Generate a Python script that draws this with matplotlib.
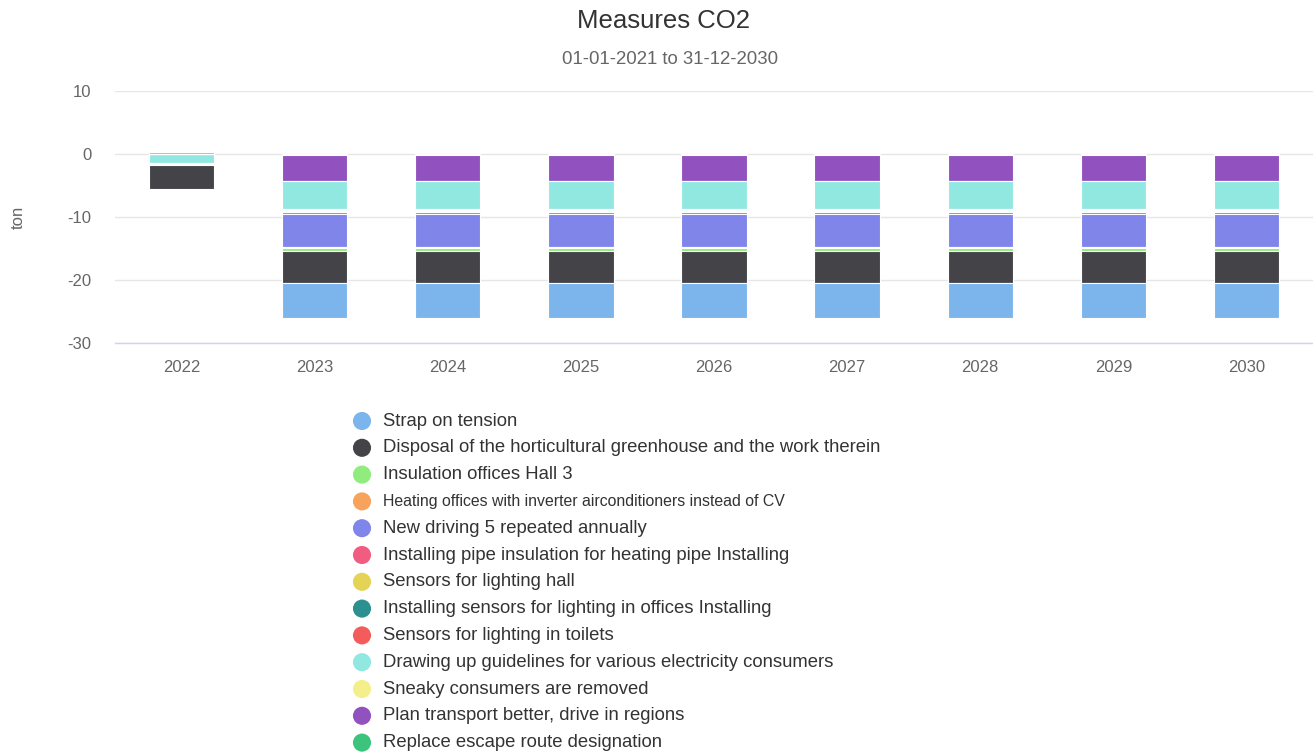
import numpy as np
import matplotlib
matplotlib.use("Agg")
import matplotlib.pyplot as plt

plt.rcParams['font.family'] = ['Liberation Sans', 'DejaVu Sans']
plt.rcParams['axes.unicode_minus'] = False

# Jaren en maatregelen (ton CO2 per jaar)
years = ['2022', '2023', '2024', '2025', '2026', '2027', '2028', '2029', '2030']

measures = [
    'Strap on tension',
    'Disposal of the horticultural greenhouse and the work therein',
    'Insulation offices Hall 3',
    'Heating offices with inverter airconditioners instead of CV',
    'New driving 5 repeated annually',
    'Installing pipe insulation for heating pipe Installing',
    'Sensors for lighting hall',
    'Installing sensors for lighting in offices Installing',
    'Sensors for lighting in toilets',
    'Drawing up guidelines for various electricity consumers',
    'Sneaky consumers are removed',
    'Plan transport better, drive in regions',
    'Replace escape route designation',
]

strap_on_tension = [0, -5.6, -5.6, -5.6, -5.6, -5.6, -5.6, -5.6, -5.6]
disposal_greenhouse = [-3.8, -5.1, -5.1, -5.1, -5.1, -5.1, -5.1, -5.1, -5.1]
insulation_hall3 = [-0.2, -0.4, -0.4, -0.4, -0.4, -0.4, -0.4, -0.4, -0.4]
heating_inverter = [0.3, -0.3, -0.3, -0.3, -0.3, -0.3, -0.3, -0.3, -0.3]
new_driving = [0, -5.2, -5.2, -5.2, -5.2, -5.2, -5.2, -5.2, -5.2]
pipe_insulation = [-0.15, -0.3, -0.3, -0.3, -0.3, -0.3, -0.3, -0.3, -0.3]
sensors_hall = [0, -0.2, -0.2, -0.2, -0.2, -0.2, -0.2, -0.2, -0.2]
sensors_offices = [0, -0.15, -0.15, -0.15, -0.15, -0.15, -0.15, -0.15, -0.15]
sensors_toilets = [-0.1, -0.15, -0.15, -0.15, -0.15, -0.15, -0.15, -0.15, -0.15]
guidelines = [-1.35, -4.35, -4.35, -4.35, -4.35, -4.35, -4.35, -4.35, -4.35]
sneaky_consumers = [0, 0, 0, 0, 0, 0, 0, 0, 0]
plan_transport = [0, -4.25, -4.25, -4.25, -4.25, -4.25, -4.25, -4.25, -4.25]
escape_route = [0, -0.1, -0.1, -0.1, -0.1, -0.1, -0.1, -0.1, -0.1]

series = [strap_on_tension, disposal_greenhouse, insulation_hall3, heating_inverter,
          new_driving, pipe_insulation, sensors_hall, sensors_offices, sensors_toilets,
          guidelines, sneaky_consumers, plan_transport, escape_route]

colors = ['#7cb5ec', '#434348', '#90ed7d', '#f7a35c', '#8085e9', '#f15c80', '#e4d354',
          '#2b908f', '#f45b5b', '#91e8e1', '#f4ef8a', '#9152bf', '#3cc47c']

fig = plt.figure(figsize=(13.13, 7.54), dpi=100)
ax = fig.add_axes([115 / 1313, 1 - 343 / 754, 1198 / 1313, 252 / 754])

x = np.arange(len(years))
pos_base = np.zeros(len(years))
neg_base = np.zeros(len(years))
# eerste reeks ligt het verst van nul, dus van achter naar voren stapelen
for vals, col in zip(reversed(series), reversed(colors)):
    v = np.array(vals, dtype=float)
    bottom = np.where(v >= 0, pos_base, neg_base)
    ax.bar(x, v, bottom=bottom, width=0.49, color=col, edgecolor='white', linewidth=0.8, zorder=3)
    pos_base = pos_base + np.where(v > 0, v, 0)
    neg_base = neg_base + np.where(v < 0, v, 0)

ax.set_xlim(-0.5, len(years) - 0.5)
ax.set_ylim(-30, 10)
ax.set_yticks([-30, -20, -10, 0, 10])
ax.set_xticks(x)
ax.set_xticklabels(years)
ax.tick_params(axis='both', length=0, labelsize=12, colors='#666666')
ax.tick_params(axis='y', pad=17)
ax.tick_params(axis='x', pad=12)
ax.grid(axis='y', color='#e6e6e6', linewidth=1, zorder=0)
for s in ['top', 'right', 'left']:
    ax.spines[s].set_visible(False)
ax.spines['bottom'].set_color('#ccd6eb')
ax.spines['bottom'].set_linewidth(1)
ax.spines['bottom'].set_zorder(4)

fig.text(18 / 1313, 1 - 217 / 754, 'ton', rotation=90, ha='center', va='center',
         fontsize=12, color='#666666')

fig.text(0.505, 1 - 21 / 754, 'Measures CO2', ha='center', va='center',
         fontsize=18.5, color='#333333')
fig.text(0.51, 1 - 60 / 754, '01-01-2021 to 31-12-2030', ha='center', va='center',
         fontsize=13.4, color='#666666')

# legenda onder de grafiek
leg = fig.add_axes([0, 0, 1, 1], zorder=-1)
leg.set_xlim(0, 1313)
leg.set_ylim(754, 0)
leg.axis('off')
for i, (name, col) in enumerate(zip(measures, colors)):
    ly = 421 + i * 26.8
    leg.scatter([362], [ly], s=170, color=col, edgecolors='none')
    size = 11.4 if i == 3 else 13.3
    leg.text(383, ly, name, ha='left', va='center', fontsize=size, color='#333333')

fig.savefig('out.png', dpi=100, facecolor='white')
